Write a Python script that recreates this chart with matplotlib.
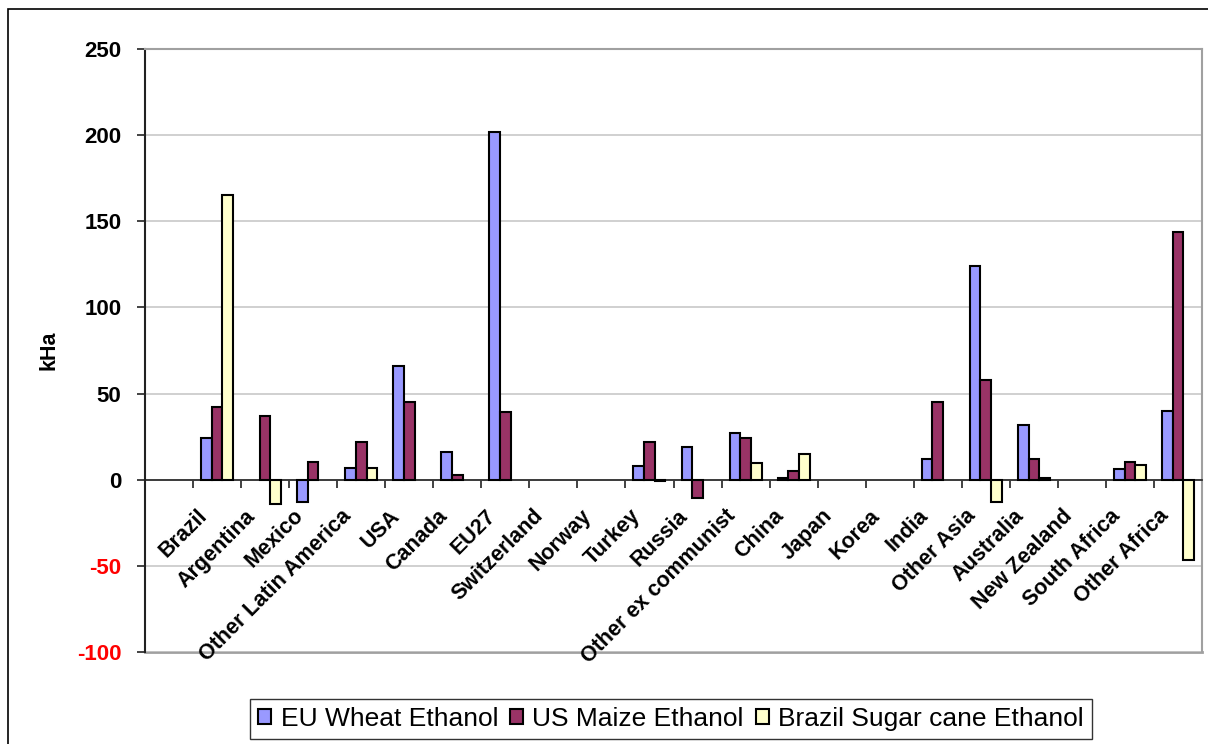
import numpy as np
import matplotlib.pyplot as plt
from matplotlib.patches import Rectangle, Patch

plt.rcParams['font.family'] = ['Liberation Sans', 'DejaVu Sans']
plt.rcParams['axes.unicode_minus'] = False

# first category slot is empty in the source chart
regions = ['', 'Brazil', 'Argentina', 'Mexico', 'Other Latin America', 'USA',
           'Canada', 'EU27', 'Switzerland', 'Norway', 'Turkey', 'Russia',
           'Other ex communist', 'China', 'Japan', 'Korea', 'India',
           'Other Asia', 'Australia', 'New Zealand', 'South Africa',
           'Other Africa']
eu_wheat = [0, 24, 0, -13, 7, 66, 16, 202, 0, 0, 8, 19, 27, 1, 0, 0, 12,
            124, 32, 0, 6, 40]
us_maize = [0, 42, 37, 10.5, 22, 45, 2.5, 39.5, 0, 0, 22, -10.5, 24.5, 5,
            0, 0, 45, 58, 12, 0, 10.5, 144]
br_sugar = [0, 165, -14, 0, 7, 0, 0, 0, 0, 0, -1, 0, 9.5, 15, 0, 0, 0,
            -13, 1, 0, 8.5, -46.5]
series_names = ['EU Wheat Ethanol', 'US Maize Ethanol',
                'Brazil Sugar cane Ethanol']
colors = ['#9999FF', '#993366', '#FFFFCC']

fig = plt.figure(figsize=(12.08, 7.44), dpi=100)
# outer chart border
fig.patches.append(Rectangle((8 / 1208, -0.1), 1.2, 1 - 9 / 744 + 0.1,
                             transform=fig.transFigure, fill=False,
                             edgecolor='black', linewidth=1.2))

ax = fig.add_axes([145 / 1208, 1 - 652 / 744, 1057 / 1208, 603 / 744])

x = np.arange(len(regions))
w = 1 / 4.5
for k, (vals, c) in enumerate(zip([eu_wheat, us_maize, br_sugar], colors)):
    edges = ['black' if v != 0 else 'none' for v in vals]
    ax.bar(x + (k - 1) * w, vals, width=w, color=c, edgecolor=edges,
           linewidth=1.5, zorder=3)

ax.set_xlim(-0.5, len(regions) - 0.5)
ax.set_ylim(-100, 250)
ax.set_yticks(np.arange(-100, 251, 50))
ax.yaxis.grid(True, color='#c8c8c8', linewidth=1.2, zorder=0)

for s in ['top', 'right']:
    ax.spines[s].set_color('#a0a0a0')
    ax.spines[s].set_linewidth(1.5)
ax.spines['left'].set_color('#222222')
ax.spines['left'].set_linewidth(1.5)
ax.spines['bottom'].set_position(('data', 0))
ax.spines['bottom'].set_color('#222222')
ax.spines['bottom'].set_linewidth(1.2)
ax.axhline(-100, color='#a0a0a0', linewidth=2.0, zorder=1, clip_on=False)

ax.set_xticks(np.arange(0.5, len(regions), 1))
ax.set_xticklabels([])
ax.tick_params(axis='x', direction='out', length=6, width=1.2,
               color='#222222')
ax.tick_params(axis='y', direction='out', length=6, width=1.2,
               color='#222222', pad=11, labelsize=16)

ax.set_yticklabels([str(int(v)) for v in ax.get_yticks()])
for lab, v in zip(ax.get_yticklabels(), ax.get_yticks()):
    lab.set_fontweight('bold')
    lab.set_color('red' if v < 0 else 'black')

for i, name in enumerate(regions):
    if name:
        ax.text(i - 0.42, -15, name, rotation=45, ha='right', va='top',
                rotation_mode='anchor', fontsize=15.5, fontweight='bold')

ax.set_ylabel('kHa', fontsize=15.5, fontweight='bold')
ax.yaxis.set_label_coords(-0.081, 0.5)

handles = [Patch(facecolor=c, edgecolor='black', linewidth=1.5, label=n)
           for c, n in zip(colors, series_names)]
leg = ax.legend(handles=handles, loc='center',
                bbox_to_anchor=(671 / 1208, 1 - 719 / 744),
                bbox_transform=fig.transFigure, ncol=3, fontsize=19,
                frameon=True, fancybox=False, handlelength=0.5,
                handleheight=0.5, handletextpad=0.35, columnspacing=0.45,
                borderpad=0.3, edgecolor='black')
leg.get_frame().set_linewidth(1.0)

fig.savefig('out.png', dpi=100)
